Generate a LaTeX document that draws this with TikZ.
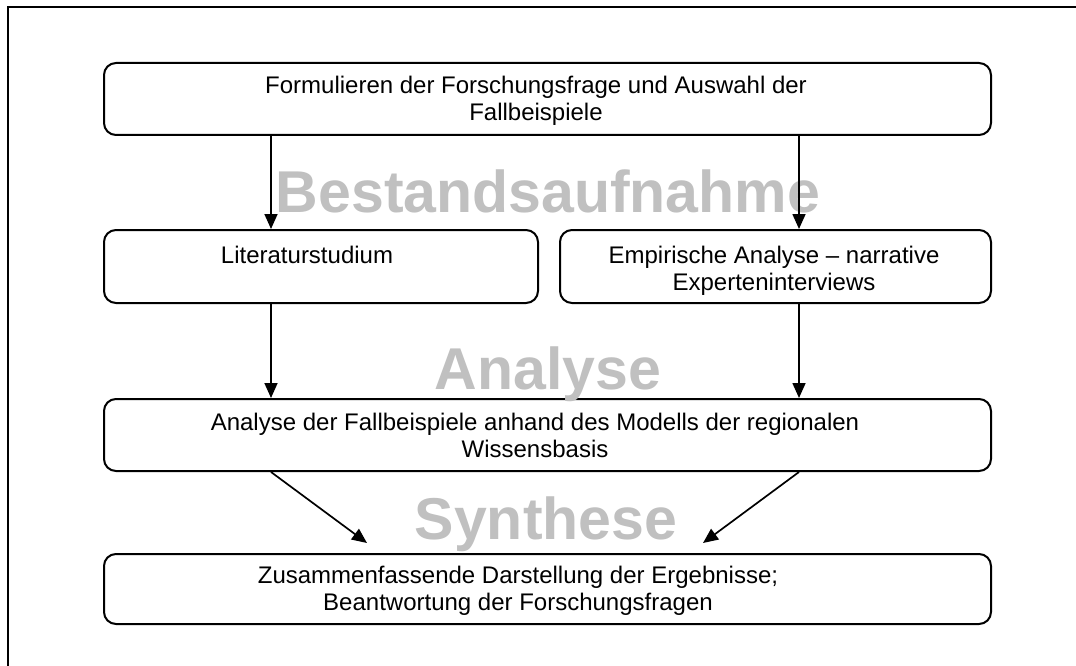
\documentclass[tikz,border=0pt]{standalone}
\usepackage{fontspec}
\setmainfont{Liberation Sans}
\usetikzlibrary{arrows.meta}
\definecolor{phasegray}{HTML}{C0C0C0}
\tikzset{
  box/.style={draw=black, line width=2pt, rounded corners=12pt, inner sep=0pt, anchor=north west},
  txt/.style={font=\fontsize{24}{27}\selectfont, align=center, inner sep=0pt, anchor=base},
  phase/.style={font=\fontsize{59}{62}\selectfont\bfseries, text=phasegray, inner sep=0pt, anchor=base},
  arr/.style={line width=1.7pt, -{Triangle[length=15pt,width=13pt]}},
  frame/.style={line width=2.6pt}
}
\begin{document}
\begin{tikzpicture}[x=1pt,y=-1pt]
  \clip (0,0) rectangle (1076,666);
  \fill[white] (0,0) rectangle (1076,666);
  % outer frame (runs past the right and bottom edges)
  \draw[frame] (8,700) -- (8,7) -- (1100,7);

  % process boxes
  \node[box, minimum width=887pt, minimum height=72pt] (b1) at (103,62) {};
  \node[box, minimum width=434pt, minimum height=73pt] (b2) at (103,229) {};
  \node[box, minimum width=431pt, minimum height=73pt] (b3) at (559,229) {};
  \node[box, minimum width=887pt, minimum height=72pt] (b4) at (103,398) {};
  \node[box, minimum width=887pt, minimum height=70pt] (b5) at (103,553) {};

  % box texts (anchored at the baseline of the last line)
  \node[txt] (t1) at (536,121) {Formulieren der Forschungsfrage und Auswahl der\\Fallbeispiele};
  \node[txt] (t2) at (307,263) {Literaturstudium};
  \node[txt] (t3) at (774,290) {Empirische Analyse – narrative\\Experteninterviews};
  \node[txt] (t4) at (535,457) {Analyse der Fallbeispiele anhand des Modells der regionalen\\Wissensbasis};
  \node[txt] (t5) at (518,610) {Zusammenfassende Darstellung der Ergebnisse;\\Beantwortung der Forschungsfragen};

  % phase labels
  \node[phase] (p1) at (548,212) {Bestandsaufnahme};
  \node[phase] (p2) at (548,389) {Analyse};
  \node[phase] (p3) at (546,539) {Synthese};

  % arrow columns and free ends
  \coordinate (colL) at (271,0);
  \coordinate (colR) at (799,0);
  \coordinate (synL) at (367,543);
  \coordinate (synR) at (703,543);

  \draw[arr] (b1.south -| colL) -- (b2.north -| colL);
  \draw[arr] (b1.south -| colR) -- (b3.north -| colR);
  \draw[arr] (b2.south -| colL) -- (b4.north -| colL);
  \draw[arr] (b3.south -| colR) -- (b4.north -| colR);
  \draw[arr] (b4.south -| colL) -- (synL);
  \draw[arr] (b4.south -| colR) -- (synR);
\end{tikzpicture}
\end{document}
